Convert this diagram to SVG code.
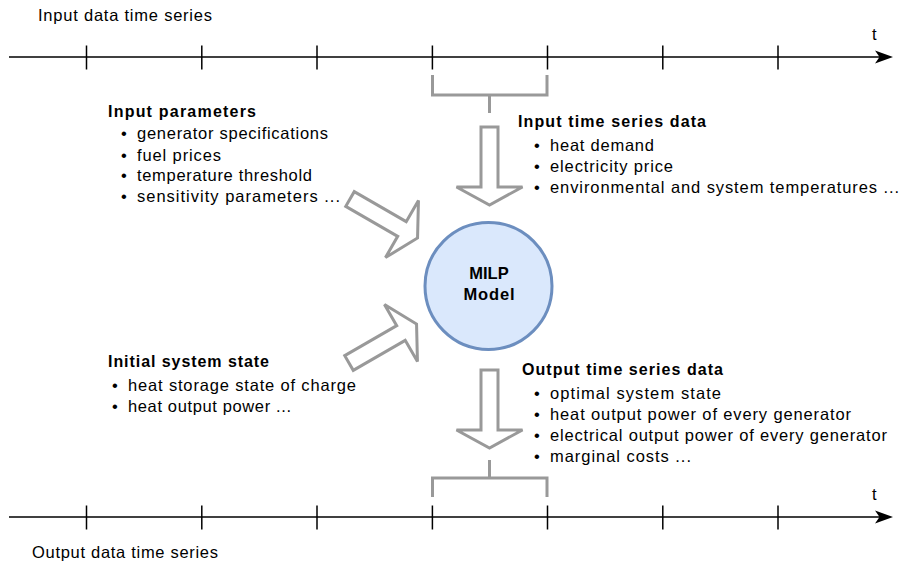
<svg xmlns="http://www.w3.org/2000/svg" xmlns:xlink="http://www.w3.org/1999/xlink" width="901" height="566" viewBox="0 0 901 566">
<style>
  .axis { stroke: #000; stroke-width: 1.5; fill: none; }
  .tick { stroke: #000; stroke-width: 1.5; }
  .gray { stroke: #999; stroke-width: 3; fill: none; }
  .big { fill: #fff; stroke: #999; stroke-width: 3; stroke-linejoin: miter; }
  text { font-family: "Liberation Sans", Arial, sans-serif; fill: #000; }
  .lbl { font-size: 16.5px; }
  .hd { font-size: 16px; font-weight: bold; }
  .bul { font-size: 16.5px; }
  .model { font-size: 16.5px; font-weight: bold; text-anchor: middle; }
</style>
<defs>
  <polygon id="bigArrow" points="0,-8.5 60,-8.5 60,-33 78,0 60,33 60,8.5 0,8.5"/>
  <polygon id="axHead" points="893,0 875,-6.5 879.5,0 875,6.5"/>
</defs>

<g id="input-axis">
  <line class="axis" x1="9" y1="57" x2="882" y2="57"/>
  <use href="#axHead" xlink:href="#axHead" transform="translate(0,57)" fill="#000"/>
  <g class="tick">
    <line x1="86.5" y1="45.5" x2="86.5" y2="69.5"/>
    <line x1="201.8" y1="45.5" x2="201.8" y2="69.5"/>
    <line x1="317" y1="45.5" x2="317" y2="69.5"/>
    <line x1="432.4" y1="45.5" x2="432.4" y2="69.5"/>
    <line x1="547.5" y1="45.5" x2="547.5" y2="69.5"/>
    <line x1="662.8" y1="45.5" x2="662.8" y2="69.5"/>
    <line x1="778" y1="45.5" x2="778" y2="69.5"/>
  </g>
  <text class="lbl" x="872" y="40">t</text>
  <text class="lbl" x="38" y="21" textLength="174" lengthAdjust="spacing">Input data time series</text>
</g>

<g id="output-axis">
  <line class="axis" x1="9" y1="517" x2="882" y2="517"/>
  <use href="#axHead" xlink:href="#axHead" transform="translate(0,517)" fill="#000"/>
  <g class="tick">
    <line x1="86.5" y1="505.5" x2="86.5" y2="529.5"/>
    <line x1="201.8" y1="505.5" x2="201.8" y2="529.5"/>
    <line x1="317" y1="505.5" x2="317" y2="529.5"/>
    <line x1="432.4" y1="505.5" x2="432.4" y2="529.5"/>
    <line x1="547.5" y1="505.5" x2="547.5" y2="529.5"/>
    <line x1="662.8" y1="505.5" x2="662.8" y2="529.5"/>
    <line x1="778" y1="505.5" x2="778" y2="529.5"/>
  </g>
  <text class="lbl" x="872" y="500">t</text>
  <text class="lbl" x="32" y="558" textLength="186" lengthAdjust="spacing">Output data time series</text>
</g>

<g id="connectors">
  <path class="gray" d="M432.5,75 V95 H547 V75 M489.5,95 V113"/>
  <path class="gray" d="M432.5,497 V478 H547 V497 M489.5,478 V460"/>
  <use href="#bigArrow" xlink:href="#bigArrow" class="big" transform="translate(489.5,127) rotate(90)"/>
  <use href="#bigArrow" xlink:href="#bigArrow" class="big" transform="translate(489.5,370) rotate(90)"/>
  <use href="#bigArrow" xlink:href="#bigArrow" class="big" transform="translate(350,199) rotate(30)"/>
  <use href="#bigArrow" xlink:href="#bigArrow" class="big" transform="translate(349,363) rotate(-30)"/>
</g>

<g id="milp-model">
  <circle cx="488.5" cy="286" r="63.5" fill="#dae8fc" stroke="#6c8ebf" stroke-width="3"/>
  <text class="model" x="489" y="279">MILP</text>
  <text class="model" x="489" y="300" textLength="51" lengthAdjust="spacing">Model</text>
</g>

<g id="input-parameters">
  <text class="hd" x="108" y="117" textLength="148" lengthAdjust="spacing">Input parameters</text>
  <text class="bul" x="121" y="139">•</text>
  <text class="bul" x="137" y="139" textLength="191" lengthAdjust="spacing">generator specifications</text>
  <text class="bul" x="121" y="161">•</text>
  <text class="bul" x="137" y="161" textLength="84" lengthAdjust="spacing">fuel prices</text>
  <text class="bul" x="121" y="181">•</text>
  <text class="bul" x="137" y="181" textLength="175" lengthAdjust="spacing">temperature threshold</text>
  <text class="bul" x="121" y="202">•</text>
  <text class="bul" x="137" y="202" textLength="203" lengthAdjust="spacing">sensitivity parameters ...</text>
</g>

<g id="input-time-series-data">
  <text class="hd" x="518" y="127" textLength="188" lengthAdjust="spacing">Input time series data</text>
  <text class="bul" x="534" y="151">•</text>
  <text class="bul" x="550" y="151" textLength="104" lengthAdjust="spacing">heat demand</text>
  <text class="bul" x="534" y="172">•</text>
  <text class="bul" x="550" y="172" textLength="123" lengthAdjust="spacing">electricity price</text>
  <text class="bul" x="534" y="193">•</text>
  <text class="bul" x="550" y="193" textLength="349" lengthAdjust="spacing">environmental and system temperatures ...</text>
</g>

<g id="initial-system-state">
  <text class="hd" x="108" y="367" textLength="161" lengthAdjust="spacing">Initial system state</text>
  <text class="bul" x="112" y="391">•</text>
  <text class="bul" x="128" y="391" textLength="228" lengthAdjust="spacing">heat storage state of charge</text>
  <text class="bul" x="112" y="412">•</text>
  <text class="bul" x="128" y="412" textLength="163" lengthAdjust="spacing">heat output power ...</text>
</g>

<g id="output-time-series-data">
  <text class="hd" x="522" y="375" textLength="201" lengthAdjust="spacing">Output time series data</text>
  <text class="bul" x="534" y="399">•</text>
  <text class="bul" x="550" y="399" textLength="171" lengthAdjust="spacing">optimal system state</text>
  <text class="bul" x="534" y="420">•</text>
  <text class="bul" x="550" y="420" textLength="301" lengthAdjust="spacing">heat output power of every generator</text>
  <text class="bul" x="534" y="441">•</text>
  <text class="bul" x="550" y="441" textLength="337" lengthAdjust="spacing">electrical output power of every generator</text>
  <text class="bul" x="534" y="462">•</text>
  <text class="bul" x="550" y="462" textLength="141" lengthAdjust="spacing">marginal costs ...</text>
</g>
</svg>
